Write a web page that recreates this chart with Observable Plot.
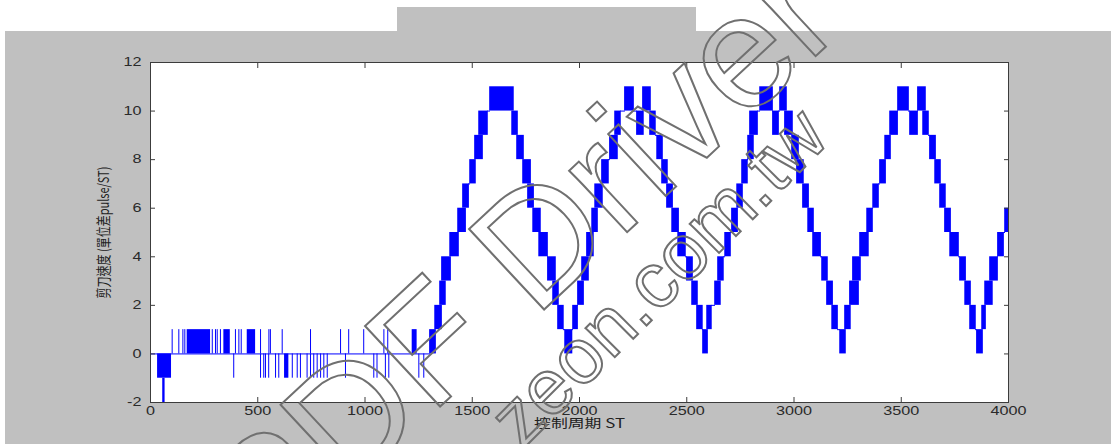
<!DOCTYPE html>
<html>
<head>
<meta charset="utf-8">
<script src="https://cdn.jsdelivr.net/npm/d3@7"></script>
<script src="https://cdn.jsdelivr.net/npm/@observablehq/plot@0.6"></script>
<style>
html,body{margin:0;padding:0;background:#fff;width:1111px;height:444px;overflow:hidden;position:relative;}
#bg{position:absolute;left:5px;top:31px;width:1106px;height:413px;background:#c0c0c0;}
#tab{position:absolute;left:397px;top:7px;width:299px;height:24px;background:#c0c0c0;}
#chart{position:absolute;left:0;top:0;}
#wm{position:absolute;left:0;top:0;pointer-events:none;}
</style>
</head>
<body>
<div id="bg"></div><div id="tab"></div><div id="chart"></div>
<svg id="wm" width="1111" height="444"></svg>
<script>
// ---- axes ----
const xTicks = [0, 500, 1000, 1500, 2000, 2500, 3000, 3500, 4000];
const yTicks = [-2, 0, 2, 4, 6, 8, 10, 12];
const xLabel = "控制周期 ST";
const yLabel = "剪刀速度 (單位差pulse/ST)";

// ---- start-up section (noise around zero) ----
const zeroLineEnd = 1305;
const dipBlock = [33, 98];        // dithering between -1 and 0
const dipSpike = [57, 68];        // down to -2
const upSpikes = [101, 132, 151, 160, 288, 303, 311, 326, 396, 412, 423, 513, 552, 559, 614, 746, 886, 924, 994, 1088, 1106];
const upBlockStart = [171, 342, 451, 1220];
const upBlockEnd   = [280, 372, 490, 1243];
const downSpikes = [388, 513, 528, 536, 551, 583, 598, 661, 684, 699, 730, 746, 761, 777, 793, 808, 824, 909, 1041, 1056, 1095, 1111, 1251, 1274];
const downBlockStart = [625];
const downBlockEnd   = [645];

// ---- staircase ramps: value dithers between level and level+1 over [start,end] ----
const bandLevel = [
  0,1,2,3,4,5,6,7,8,9,10,
  9,8,7,6,5,4,3,2,1,0,
  1,2,3,4,5,6,7,8,9,10,9,10,
  9,8,7,6,5,4,3,2,1,0,
  1,2,3,4,5,6,7,8,9,10,9,10,
  9,8,7,6,5,4,3,2,1,0,
  1,2,3,4,5,6,7,8,9,10,9,10,
  9,8,7,6,5,4,3,2,1,0,
  1,2,3,4,5
];
const bandStart = [
  1305,1329,1352,1361,1399,1436,1459,1492,1515,1534,1585,
  1688,1711,1739,1762,1786,1814,1855,1879,1902,1935,
  1972,1995,2014,2037,2061,2075,2107,2144,2168,2214,2270,2298,
  2331,2364,2387,2410,2434,2462,2503,2527,2550,2578,
  2597,2634,2648,2681,2713,2737,2760,2788,2797,2844,2904,2937,
  2960,2993,3016,3044,3068,3091,3133,3156,3180,3217,
  3240,3263,3277,3310,3343,3371,3403,3427,3450,3487,3543,3580,
  3604,3636,3660,3683,3706,3730,3776,3800,3823,3855,
  3879,3893,3916,3953,3986
];
const bandEnd = [
  1329,1357,1375,1399,1436,1469,1483,1515,1548,1571,1692,
  1711,1739,1772,1786,1818,1851,1888,1902,1925,1965,
  1991,2019,2042,2065,2084,2107,2135,2177,2191,2252,2298,2331,
  2354,2387,2410,2434,2462,2494,2527,2550,2573,2597,
  2615,2657,2671,2704,2737,2760,2783,2811,2830,2900,2928,2965,
  2993,3021,3044,3068,3091,3124,3156,3180,3203,3240,
  3263,3301,3310,3347,3366,3394,3427,3450,3483,3534,3576,3613,
  3627,3660,3683,3706,3730,3767,3800,3823,3846,3879,
  3893,3925,3949,3977,4000
];

// ---- build tables ----
const bands = bandLevel.map((l, i) => ({x1: bandStart[i], x2: bandEnd[i], y1: l, y2: l + 1}));
const links = [];
for (let i = 0; i + 1 < bands.length; i++) {
  const a = bands[i], b = bands[i + 1];
  if (b.x1 > a.x2) {
    const lvl = b.y1 > a.y1 ? b.y1 : a.y1;
    links.push({x1: a.x2, x2: b.x1, y: lvl});
  }
}
const upBlocks = upBlockStart.map((s, i) => ({x1: s, x2: upBlockEnd[i]}));
const downBlocks = downBlockStart.map((s, i) => ({x1: s, x2: downBlockEnd[i]}));

const blue = "#0000ff";
const tickFont = "'Liberation Sans', Arial, Helvetica, sans-serif";
const fmt = d => String(d);

const chart = Plot.plot({
  width: 1111,
  height: 444,
  marginLeft: 150,
  marginRight: 103,
  marginTop: 62,
  marginBottom: 42,
  x: {domain: [0, 4000]},
  y: {domain: [-2, 12]},
  style: {background: "transparent", fontFamily: tickFont, fontSize: "12px", color: "#2a2a2a", overflow: "visible"},
  marks: [
    Plot.frame({fill: "white", stroke: null}),
    // start-up section
    Plot.ruleY([0], {x1: 0, x2: zeroLineEnd, stroke: blue, strokeWidth: 1}),
    Plot.rect([dipBlock], {x1: d => d[0], x2: d => d[1], y1: -1, y2: 0, fill: blue}),
    Plot.rect([dipSpike], {x1: d => d[0], x2: d => d[1], y1: -2, y2: -1, fill: blue}),
    Plot.ruleX(upSpikes, {x: d => d, y1: 0, y2: 1, stroke: blue, strokeWidth: 1}),
    Plot.rect(upBlocks, {x1: "x1", x2: "x2", y1: 0, y2: 1, fill: blue}),
    Plot.ruleX(downSpikes, {x: d => d, y1: 0, y2: -1, stroke: blue, strokeWidth: 1}),
    Plot.rect(downBlocks, {x1: "x1", x2: "x2", y1: -1, y2: 0, fill: blue}),
    // ramps
    Plot.rect(bands, {x1: "x1", x2: "x2", y1: "y1", y2: "y2", fill: blue, insetLeft: -0.8, insetRight: -0.8}),
    Plot.ruleY(links, {x1: "x1", x2: "x2", y: "y", stroke: blue, strokeWidth: 1}),
    // axes box
    Plot.frame({stroke: "#3c3c3c", strokeWidth: 1}),
    Plot.axisX({ticks: xTicks, anchor: "bottom", tickSize: -5, tickPadding: 9, tickFormat: fmt, label: null, stroke: "#3c3c3c"}),
    Plot.axisX({ticks: xTicks, anchor: "top", tickSize: -5, tickFormat: () => "", label: null, stroke: "#3c3c3c"}),
    Plot.axisY({ticks: yTicks, anchor: "left", tickSize: -5, tickPadding: 14, tickFormat: fmt, label: null, stroke: "#3c3c3c"}),
    Plot.axisY({ticks: yTicks, anchor: "right", tickSize: -5, tickFormat: () => "", label: null, stroke: "#3c3c3c"}),
    Plot.text([xLabel], {frameAnchor: "bottom", dy: 25, text: d => d, fontSize: 12.5, fontFamily: "'Noto Sans CJK TC', sans-serif", fill: "#222"}),
    Plot.text([yLabel], {frameAnchor: "left", dx: -46, rotate: -90, textAnchor: "middle", text: d => d, fontSize: 11, fontFamily: "'Noto Sans CJK TC', sans-serif", fill: "#222"})
  ]
});

// horizontally stretched text as in the reference
chart.querySelectorAll("text").forEach(t => {
  const tr = t.getAttribute("transform");
  if (tr) {
    const m = tr.match(/^(translate\([^)]*\))(.*)$/);
    if (m) t.setAttribute("transform", m[1] + " scale(1.35,1)" + m[2]);
  }
});
document.getElementById("chart").appendChild(chart);

// ---- watermark ----
const wm = d3.select("#wm");
const wmStyle = t => t.attr("fill", "none").attr("stroke", "#707070").attr("stroke-width", 2)
  .attr("font-family", "'Liberation Sans', Arial, sans-serif");
wm.append("text").text("PDF Driver").attr("font-size", 160)
  .attr("transform", "translate(268,567) rotate(-43)").call(wmStyle);
wm.append("text").text("zeon.com.tw").attr("font-size", 78)
  .attr("transform", "translate(522,450) rotate(-45)").call(wmStyle);
</script>
</body>
</html>
